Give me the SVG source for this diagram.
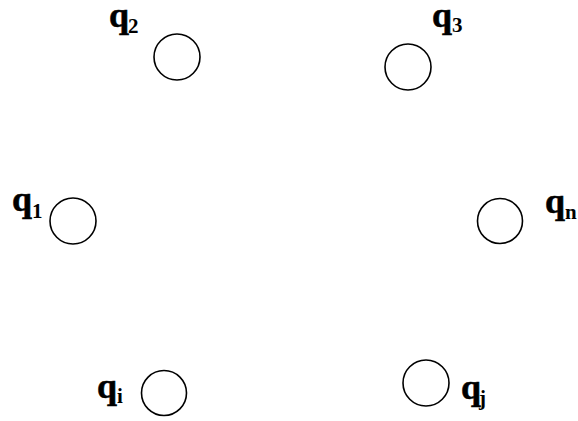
<svg xmlns="http://www.w3.org/2000/svg" width="578" height="421" viewBox="0 0 578 421">
<style>
.st{fill:none;stroke:#000;stroke-width:1.6}
.q{font-family:"Liberation Serif","Times New Roman",serif;font-weight:bold;font-size:36px;fill:#000;stroke:#000;stroke-width:0.6}
.s{font-family:"Liberation Serif","Times New Roman",serif;font-weight:bold;font-size:21px;fill:#000}
</style>
<rect width="578" height="421" fill="#fff"/>
<g id="connectors"></g>
<g id="q2"><circle class="st" cx="177" cy="57" r="23"/><text class="q" x="109" y="27">q</text><text class="s" x="128" y="33">2</text></g>
<g id="q3"><circle class="st" cx="408" cy="67" r="23"/><text class="q" x="432" y="27">q</text><text class="s" x="452" y="32">3</text></g>
<g id="q1"><circle class="st" cx="73" cy="221" r="23"/><text class="q" x="12" y="211">q</text><text class="s" x="32" y="218">1</text></g>
<g id="qn"><circle class="st" cx="500" cy="221" r="22.5"/><text class="q" x="545" y="213">q</text><text class="s" x="565" y="219">n</text></g>
<g id="qi"><circle class="st" cx="164" cy="393" r="22.5"/><text class="q" x="97" y="398">q</text><text class="s" x="117" y="403">i</text></g>
<g id="qj"><circle class="st" cx="426" cy="383" r="23"/><text class="q" x="461" y="399">q</text><text class="s" x="479" y="405">j</text></g>
</svg>
